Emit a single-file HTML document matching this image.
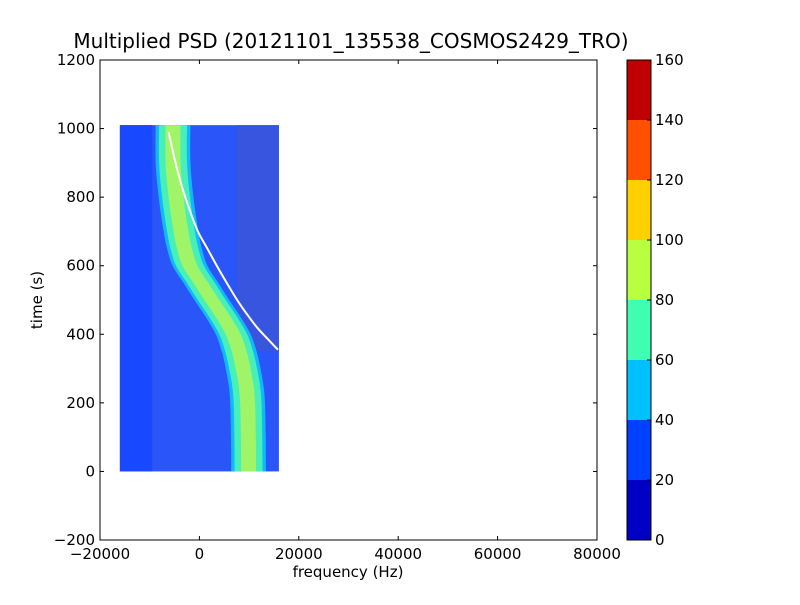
<!DOCTYPE html>
<html><head><meta charset="utf-8"><style>
body{margin:0;background:#fff;}
svg{font-family:"DejaVu Sans","Liberation Sans",sans-serif;}
</style></head><body>
<svg id="c" width="800" height="600" xmlns="http://www.w3.org/2000/svg">
<rect width="800" height="600" fill="#fff"/>
<g id="plot"></g>
<g id="axes"></g>
<g id="cbar"></g>
<text x="351" y="48" font-size="20" text-anchor="middle">Multiplied PSD (20121101_135538_COSMOS2429_TRO)</text>
<text x="348" y="577" font-size="15" text-anchor="middle">frequency (Hz)</text>
<text x="42" y="300" font-size="15" text-anchor="middle" transform="rotate(-90 42 300)">time (s)</text>
</svg>
<script>
const xTicks=[-20000,0,20000,40000,60000,80000];
const yTicks=[-200,0,200,400,600,800,1000,1200];
const cbTicks=[0,20,40,60,80,100,120,140,160];
const cbColors=["#0000c4","#0040ff","#00c0ff","#40ffb0","#b8ff40","#ffd000","#ff5000","#c00000"];
const bandTimes=[0,100,200,250,300,350,400,450,500,550,600,650,700,800,900,1010];
const bandCenters=[9900,9850,9700,9400,8800,8000,6800,4800,2500,300,-1900,-3000,-3700,-4700,-5300,-5300];
const whiteTimes=[990,900,830,760,700,650,600,550,500,460,420,390,355];
const whiteFreqs=[-6200,-4800,-3500,-1900,-300,1600,3500,5500,7600,9500,11600,13500,15800];
const specX=[-16000,16000], specT=[0,1010];
const bandHalf=[3500,2800,1500];
const bandColors=["#10b8ff","#48f0b8","#a0f468"];

const NS="http://www.w3.org/2000/svg";
const X0=100,X1=597,Y0=540,Y1=60;
const sx=v=>X0+(v-(-20000))/(100000)*(X1-X0);
const sy=v=>Y0-(v-(-200))/1400*(Y0-Y1);
function mk(tag,attrs,parent){const e=document.createElementNS(NS,tag);for(const k in attrs)e.setAttribute(k,attrs[k]);parent.appendChild(e);return e;}
function smooth(pts){let d='M'+pts[0][0]+','+pts[0][1];
  for(let i=0;i<pts.length-1;i++){const p0=pts[Math.max(0,i-1)],p1=pts[i],p2=pts[i+1],p3=pts[Math.min(pts.length-1,i+2)];
    const c1=[p1[0]+(p2[0]-p0[0])/6,p1[1]+(p2[1]-p0[1])/6],c2=[p2[0]-(p3[0]-p1[0])/6,p2[1]-(p3[1]-p1[1])/6];
    d+=' C'+c1+' '+c2+' '+p2;}return d;}
const plot=document.getElementById('plot'),axes=document.getElementById('axes'),cb=document.getElementById('cbar');
let r=mk('rect',{x:sx(specX[0]),y:sy(specT[1]),width:sx(specX[1])-sx(specX[0]),height:sy(specT[0])-sy(specT[1]),fill:"#2a55f8"},plot);


r=mk('rect',{x:sx(specX[0]),y:sy(specT[1]),width:sx(-9500)-sx(specX[0]),height:sy(specT[0])-sy(specT[1]),fill:"#1848ff"},plot);


r=mk('rect',{x:sx(7500),y:sy(specT[1]),width:sx(specX[1])-sx(7500),height:sy(350)-sy(specT[1]),fill:"#3c55d8",opacity:0.8},plot);


bandHalf.forEach((h,i)=>{
  const left=bandTimes.map((t,j)=>[sx(bandCenters[j]-h),sy(t)]);
  const right=bandTimes.map((t,j)=>[sx(bandCenters[j]+h),sy(t)]).reverse();
  let d=smooth(left)+' L'+right[0]+' '+smooth(right).slice(1)+' Z';
  const p=mk('path',{d:d,fill:bandColors[i]},plot);
  
  
});
const wl=mk('path',{d:smooth(whiteTimes.map((t,j)=>[sx(whiteFreqs[j]),sy(t)])),fill:'none',stroke:'#fff','stroke-width':2},plot);


const fr=mk('rect',{x:X0,y:Y1,width:X1-X0,height:Y0-Y1,fill:'none',stroke:'#000','stroke-width':1},axes);


xTicks.forEach(v=>{const x=sx(v);
  mk('line',{x1:x,y1:Y0,x2:x,y2:Y0-4,stroke:'#000'},axes);mk('line',{x1:x,y1:Y1,x2:x,y2:Y1+4,stroke:'#000'},axes);
  const t=mk('text',{x:x,y:Y0+19,'font-size':15,'text-anchor':'middle'},axes);t.textContent=(v<0?'\u2212'+(-v):v);
  
  });
yTicks.forEach(v=>{const y=sy(v);
  mk('line',{x1:X0,y1:y,x2:X0+4,y2:y,stroke:'#000'},axes);mk('line',{x1:X1,y1:y,x2:X1-4,y2:y,stroke:'#000'},axes);
  const t=mk('text',{x:X0-5,y:y+5,'font-size':15,'text-anchor':'end'},axes);t.textContent=(v<0?'\u2212'+(-v):v);
  
  });
const CX=627,CW=24,cy=v=>540-v/160*480;
cbColors.forEach((c,i)=>{const b=mk('rect',{x:CX,y:cy((i+1)*20),width:CW,height:cy(i*20)-cy((i+1)*20),fill:c},cb);
  
  });
const cf=mk('rect',{x:CX,y:60,width:CW,height:480,fill:'none',stroke:'#000'},cb);


cbTicks.forEach(v=>{const y=cy(v);mk('line',{x1:CX+CW-4,y1:y,x2:CX+CW,y2:y,stroke:'#000'},cb);
  const t=mk('text',{x:CX+CW+4,y:y+5,'font-size':15},cb);t.textContent=v;
  
  });
</script>
</body></html>
